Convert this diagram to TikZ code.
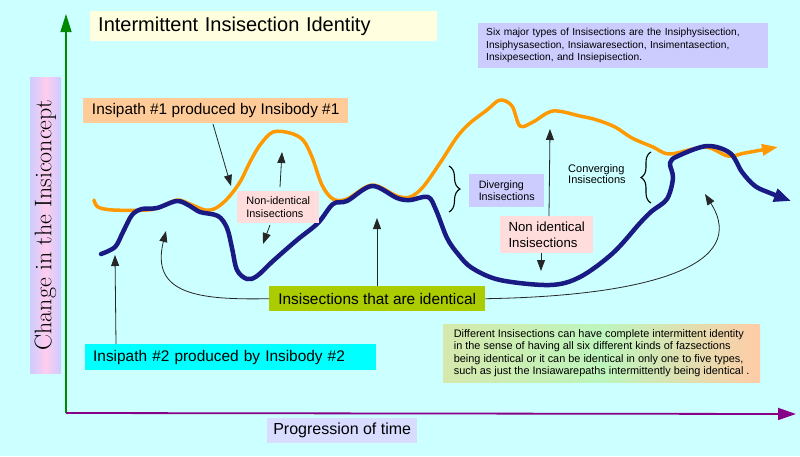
\documentclass[tikz,border=0pt]{standalone}
\usepackage{fontspec}
\setsansfont{Liberation Sans}
\usetikzlibrary{arrows.meta,decorations.pathreplacing,calc}
\definecolor{bgc}{HTML}{CCFFFF}
\definecolor{titlec}{HTML}{FFFFE0}
\definecolor{lavc}{HTML}{CCCCFF}
\definecolor{orgbox}{HTML}{FFCC99}
\definecolor{cyanbox}{HTML}{00FFFF}
\definecolor{identc}{HTML}{AACC00}
\definecolor{progc}{HTML}{D8DDFF}
\definecolor{pinkc}{HTML}{FFDDDD}
\definecolor{ylabpink}{HTML}{FFCCEE}
\definecolor{diffL}{HTML}{D6E8AC}
\definecolor{diffM}{HTML}{BDF5BD}
\definecolor{diffR}{HTML}{FFCCA6}
\definecolor{orangeln}{HTML}{FF9900}
\definecolor{blueln}{HTML}{1A1A85}
\definecolor{greenax}{HTML}{008800}
\definecolor{purpax}{HTML}{880088}
\begin{document}
\begin{tikzpicture}[x=1pt,y=-1pt,
  box/.style={anchor=north west, align=left, inner xsep=2pt, inner ysep=0pt, text=black, font=\sffamily\fontsize{15.4}{17}\selectfont},
  smallbox/.style={box, font=\sffamily\fontsize{10.9}{12.3}\selectfont},
  thinarrow/.style={draw=black!85, line width=0.8pt, -{Triangle[length=11pt,width=8pt]}},
  orangeline/.style={draw=orangeln, line width=3.5pt, line cap=round, line join=round},
  blueline/.style={draw=blueln, line width=4.5pt, line cap=round, line join=round},
  bracestyle/.style={draw=black, line width=1.1pt, decorate},
]
\useasboundingbox (0,0) rectangle (800,456);
\fill[bgc] (0,0) rectangle (800,456);

% axes
\coordinate (origin) at (66,413);
\coordinate (ytop) at (66,14);
\coordinate (xend) at (796,414);
\draw[greenax, line width=1.5pt, -{Triangle[length=18pt,width=11pt]}] (origin) -- (ytop);
\draw[purpax, line width=1.8pt, -{Triangle[length=18pt,width=12pt]}] (origin) -- (xend);

% axis labels
\node[rotate=90, inner sep=0pt, minimum width=296pt, minimum height=31pt,
      left color=lavc, right color=lavc, middle color=ylabpink,
      font=\rmfamily\fontsize{24}{26}\selectfont] (ylab) at (45.5,225) {Change in the Insiconcept};
\node[box, fill=progc, minimum width=150pt, minimum height=25pt, font=\sffamily\fontsize{16}{18}\selectfont] (prog) at (267,418) {Progression of time};

% title and notes
\node[box, inner xsep=8pt, fill=titlec, text width=331pt, minimum height=30pt, font=\sffamily\fontsize{20}{22}\selectfont] (title) at (90,11) {Intermittent Insisection Identity};
\node[smallbox, inner xsep=8pt, fill=lavc, text width=274pt, minimum height=45pt, font=\sffamily\fontsize{10.2}{12.5}\selectfont] (six) at (478,23)
  {Six major types of Insisections are the Insiphysisection,\\Insiphysasection, Insiawaresection, Insimentasection,\\Insixpesection, and Insiepisection.};
\node[smallbox, minimum width=317pt, minimum height=58pt,
      left color=diffL, right color=diffR, middle color=diffM] (diff) at (443,324)
  {Different Insisections can have complete intermittent identity\\in the sense of having all six different kinds of fazsections\\being identical or it can be identical in only one to five types,\\such as just the Insiawarepaths intermittently being identical .};

% curves
\draw[orangeline, -{Triangle[length=16pt,width=11pt]}] plot[smooth, tension=0.55] coordinates {
 (94,200) (98,207) (113,210) (147,210) (160,207) (177,200) (190,204) (205,210) (216,208)
 (228,198) (240,182) (250,162) (260,145) (273,132) (290,133) (303,140) (312,157) (322,185)
 (333,199) (347,199) (372,185) (397,196) (410,197) (423,187) (440,163) (457,137) (470,123)
 (487,110) (500,100) (512,106) (520,126) (533,122) (553,111) (580,116) (597,120) (615,127)
 (632,138) (653,147) (670,154) (705,147) (728,156) (745,153) (778,147)};

\draw[blueline, -{Triangle[length=17pt,width=13pt]}] plot[smooth, tension=0.55] coordinates {
 (101,254) (115,247) (123,232) (132,215) (142,209) (157,208) (177,201) (190,206) (200,212)
 (218,216) (227,228) (232,248) (237,270) (247,279) (257,276) (273,261) (297,240) (318,223)
 (333,204) (347,201) (372,186) (397,198) (410,200) (428,197) (436,210) (447,238) (458,254)
 (472,268) (500,280) (550,285) (580,277) (613,253) (640,223) (652,211) (667,199) (673,178)
 (670,163) (678,156) (707,146) (730,153) (742,172) (755,186) (770,193) (791,201)};

% labels on curves
\node[box, fill=orgbox, minimum width=265pt, minimum height=25pt] (ins1) at (83,98) {Insipath \#1 produced by Insibody \#1};
\node[box, inner xsep=8pt, fill=cyanbox, text width=275pt, minimum height=26pt] (ins2) at (85,344) {Insipath \#2 produced by Insibody \#2};
\node[box, fill=identc, minimum width=216pt, minimum height=25pt] (ident) at (269,286) {Insisections that are identical};
\node[smallbox, fill=pinkc, minimum width=82pt, minimum height=32pt] (nonid1) at (237,191) {Non-identical\\Insisections};
\node[smallbox, fill=lavc, minimum width=75pt, minimum height=33pt, font=\sffamily\fontsize{10.7}{12.3}\selectfont] (diverg) at (469,174) {Diverging\\Insisections};
\node[smallbox, inner xsep=0pt, font=\sffamily\fontsize{11}{11.5}\selectfont] (converg) at (568,164) {Converging\\Insisections};
\node[box, fill=pinkc, minimum width=93pt, minimum height=37pt, font=\sffamily\fontsize{13.2}{15.5}\selectfont] (nonid2) at (500,216) {Non identical\\Insisections};

% braces
\draw[bracestyle, decoration={brace, amplitude=11pt}] (449,166) -- (449,212);
\draw[bracestyle, decoration={brace, amplitude=10pt}] (651,203) -- (651,152);

% arrow endpoints
\coordinate (a1s) at (213,124);
\coordinate (a1t) at (231,186);
\coordinate (a2s) at (280,187);
\coordinate (a2t) at (282,152);
\coordinate (a3s) at (270,225);
\coordinate (a3t) at (263,244);
\coordinate (a4s) at (116,344);
\coordinate (a4t) at (115,255);
\coordinate (a5s) at (377,286);
\coordinate (a5t) at (377,218);
\coordinate (a6s) at (549,216);
\coordinate (a6t) at (550,129);
\coordinate (a7s) at (541,253);
\coordinate (a7t) at (541,271);
\coordinate (ilt) at (166,231);
\coordinate (irt) at (705,194);

\draw[thinarrow] (a1s) -- (a1t);
\draw[thinarrow] (a2s) -- (a2t);
\draw[thinarrow] (a3s) -- (a3t);
\draw[thinarrow] (a4s) -- (a4t);
\draw[thinarrow] (a5s) -- (a5t);
\draw[thinarrow] (a6s) -- (a6t);
\draw[thinarrow] (a7s) -- (a7t);
\draw[thinarrow] (ident.west) .. controls (200,300) and (150,295) .. (ilt);
\draw[thinarrow] (ident.east) .. controls (650,296) and (750,265) .. (irt);
\end{tikzpicture}
\end{document}
